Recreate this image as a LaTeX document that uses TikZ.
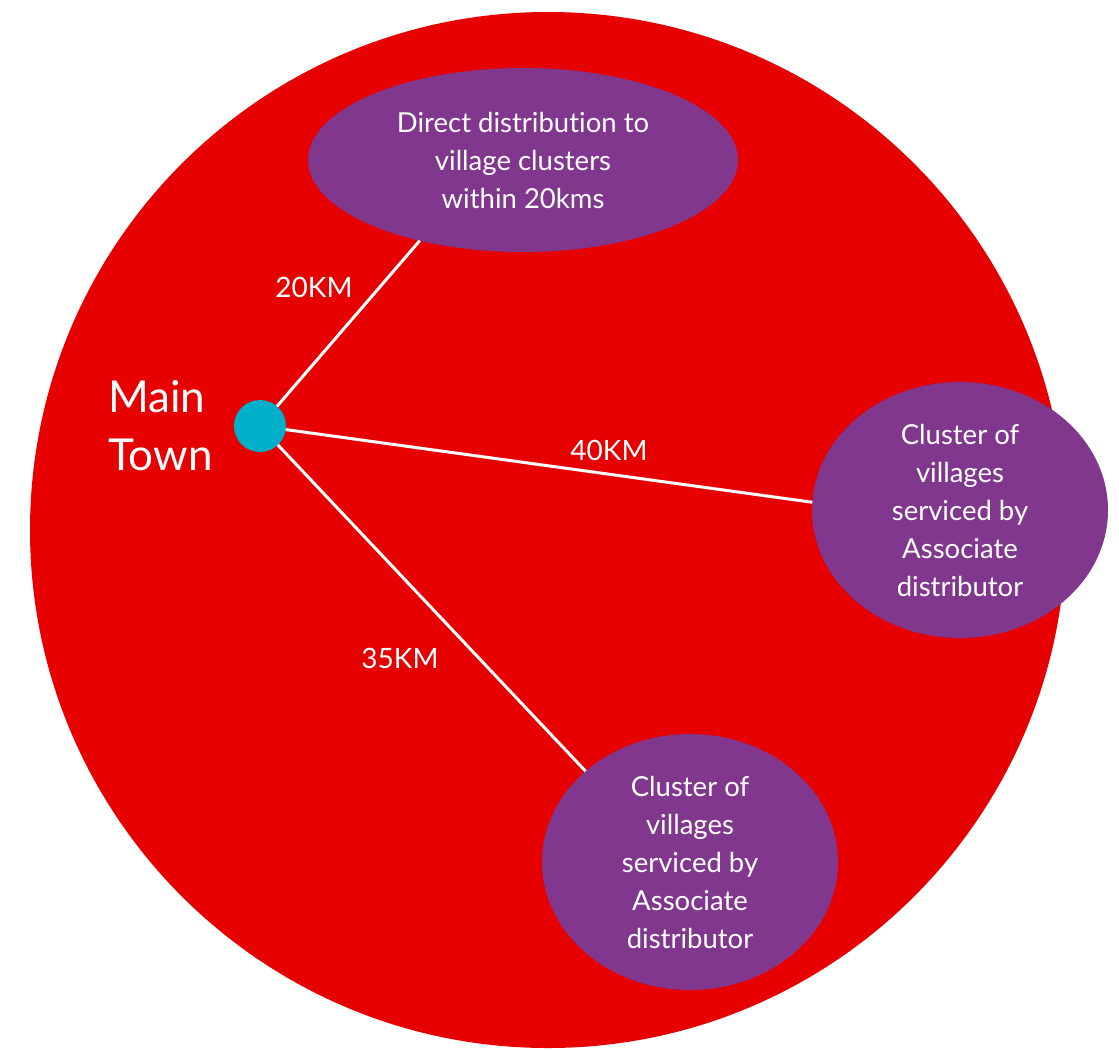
\documentclass[tikz,border=0pt]{standalone}
\usepackage{fontspec}
\setmainfont[Ligatures=NoCommon]{Lato}
\usetikzlibrary{shapes.geometric}
\definecolor{areared}{HTML}{E60000}
\definecolor{clusterpurple}{HTML}{80378D}
\definecolor{towncyan}{HTML}{00AFCA}
\begin{document}
\begin{tikzpicture}[x=1pt,y=-1pt,
  cluster/.style={ellipse,fill=clusterpurple,text=white,inner sep=0pt,outer sep=0pt,
    align=center,font=\fontsize{27.5}{38}\selectfont},
  link/.style={white,line width=3pt},
  distlabel/.style={text=white,font=\fontsize{28}{30}\selectfont,inner sep=0pt}]
\useasboundingbox (0,0) rectangle (1119,1050);
% service area
\fill[areared] (548,530) circle[radius=518];
% clusters
\node[cluster,minimum width=430pt,minimum height=184pt] (direct) at (523,160)
  {Direct distribution to\\village clusters\\within 20kms};
\node[cluster,minimum width=296pt,minimum height=256pt] (east) at (960,510)
  {Cluster of\\villages\\serviced by\\Associate\\distributor};
\node[cluster,minimum width=296pt,minimum height=256pt] (south) at (690,862)
  {Cluster of\\villages\\serviced by\\Associate\\distributor};
% main town and its links
\coordinate (hub) at (260,426);
\draw[link] (hub) -- (direct.218);
\draw[link] (hub) -- (east.177);
\draw[link] (hub) -- (south.139);
\node[circle,fill=towncyan,minimum size=52pt,inner sep=0pt] (town) at (hub) {};
\node[text=white,anchor=west,align=left,inner sep=0pt,font=\fontsize{44}{58}\selectfont] (townlabel) at (108,426) {Main\\Town};
% distances
\node[distlabel] (d20) at (314,287) {20KM};
\node[distlabel] (d40) at (609,450) {40KM};
\node[distlabel] (d35) at (400,658) {35KM};
\end{tikzpicture}
\end{document}
